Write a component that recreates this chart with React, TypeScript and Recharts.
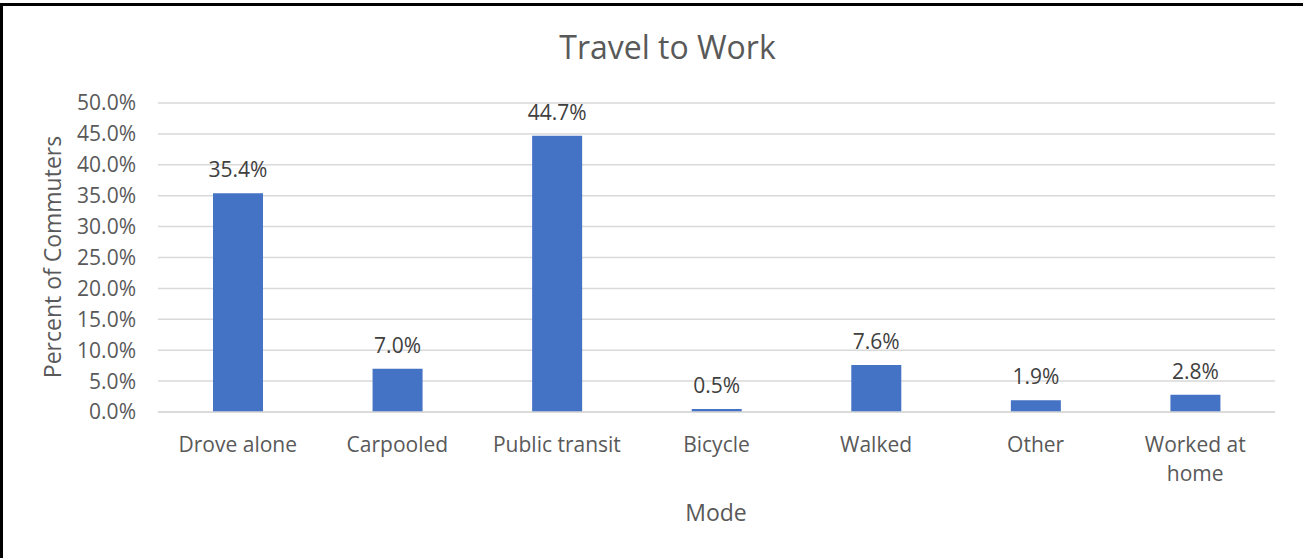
import { BarChart, Bar, XAxis, YAxis, CartesianGrid, LabelList } from "recharts";

const modes = ["Drove alone", "Carpooled", "Public transit", "Bicycle", "Walked", "Other", "Worked at home"];
const percents = [35.4, 7.0, 44.7, 0.5, 7.6, 1.9, 2.8];
const yTicks = [0, 5, 10, 15, 20, 25, 30, 35, 40, 45, 50];

const data = modes.map((m, i) => ({ mode: m, pct: percents[i] }));

const FONT = "'Open Sans', sans-serif";
const TEXT = "#595959";

const pct = (v: number) => `${Number(v).toFixed(1)}%`;

// long labels (3+ words) wrap onto two lines, like the original
function ModeTick(props: any) {
  const { x, y, payload } = props;
  const label: string = payload.value;
  let lines = [label];
  if (label.split(" ").length > 2) {
    const cut = label.lastIndexOf(" ");
    lines = [label.slice(0, cut), label.slice(cut + 1)];
  }
  return (
    <text x={x} y={y} textAnchor="middle" fill={TEXT} fontSize={21} fontFamily={FONT}>
      {lines.map((l, i) => (
        <tspan key={i} x={x} dy={i === 0 ? 32 : 29}>{l}</tspan>
      ))}
    </text>
  );
}

export default function App() {
  return (
    <div style={{ position: "absolute", left: 0, top: 0, width: 1303, height: 558, background: "#fff" }}>
      <div style={{ position: "absolute", left: 0, top: 3, width: 1303, height: 555, borderTop: "3px solid #000", borderLeft: "3px solid #000", boxSizing: "border-box" }} />
      <div style={{ position: "absolute", left: 0, width: 1335, top: 25, textAlign: "center", fontFamily: FONT, fontSize: 32, color: TEXT }}>
        Travel to Work
      </div>
      <div style={{ position: "absolute", left: 52, top: 257, transform: "translate(-50%, -50%) rotate(-90deg)", whiteSpace: "nowrap", fontFamily: FONT, fontSize: 23, color: TEXT }}>
        Percent of Commuters
      </div>
      <div style={{ position: "absolute", left: 716, top: 512, transform: "translate(-50%, -50%)", fontFamily: FONT, fontSize: 23, color: TEXT }}>
        Mode
      </div>
      <div style={{ position: "absolute", left: 0, top: 0 }}>
        <BarChart width={1303} height={558} data={data} margin={{ top: 103, right: 28, bottom: 106, left: 20 }} barCategoryGap="34%">
          <CartesianGrid vertical={false} stroke="#d9d9d9" strokeWidth={1.5} />
          <XAxis dataKey="mode" axisLine={{ stroke: "#d9d9d9", strokeWidth: 1.5 }} tickLine={false} tick={<ModeTick />} interval={0} height={40} />
          <YAxis
            width={138}
            domain={[0, 50]}
            ticks={yTicks}
            tickFormatter={pct}
            axisLine={false}
            tickLine={false}
            tickSize={0}
            tickMargin={22}
            tick={{ fill: TEXT, fontSize: 21, fontFamily: FONT }}
          />
          <Bar dataKey="pct" fill="#4472C4" barSize={50} isAnimationActive={false}>
            <LabelList dataKey="pct" position="top" offset={16} formatter={(v: any) => pct(v)} fill="#404040" fontSize={21} fontFamily={FONT} />
          </Bar>
        </BarChart>
      </div>
    </div>
  );
}
